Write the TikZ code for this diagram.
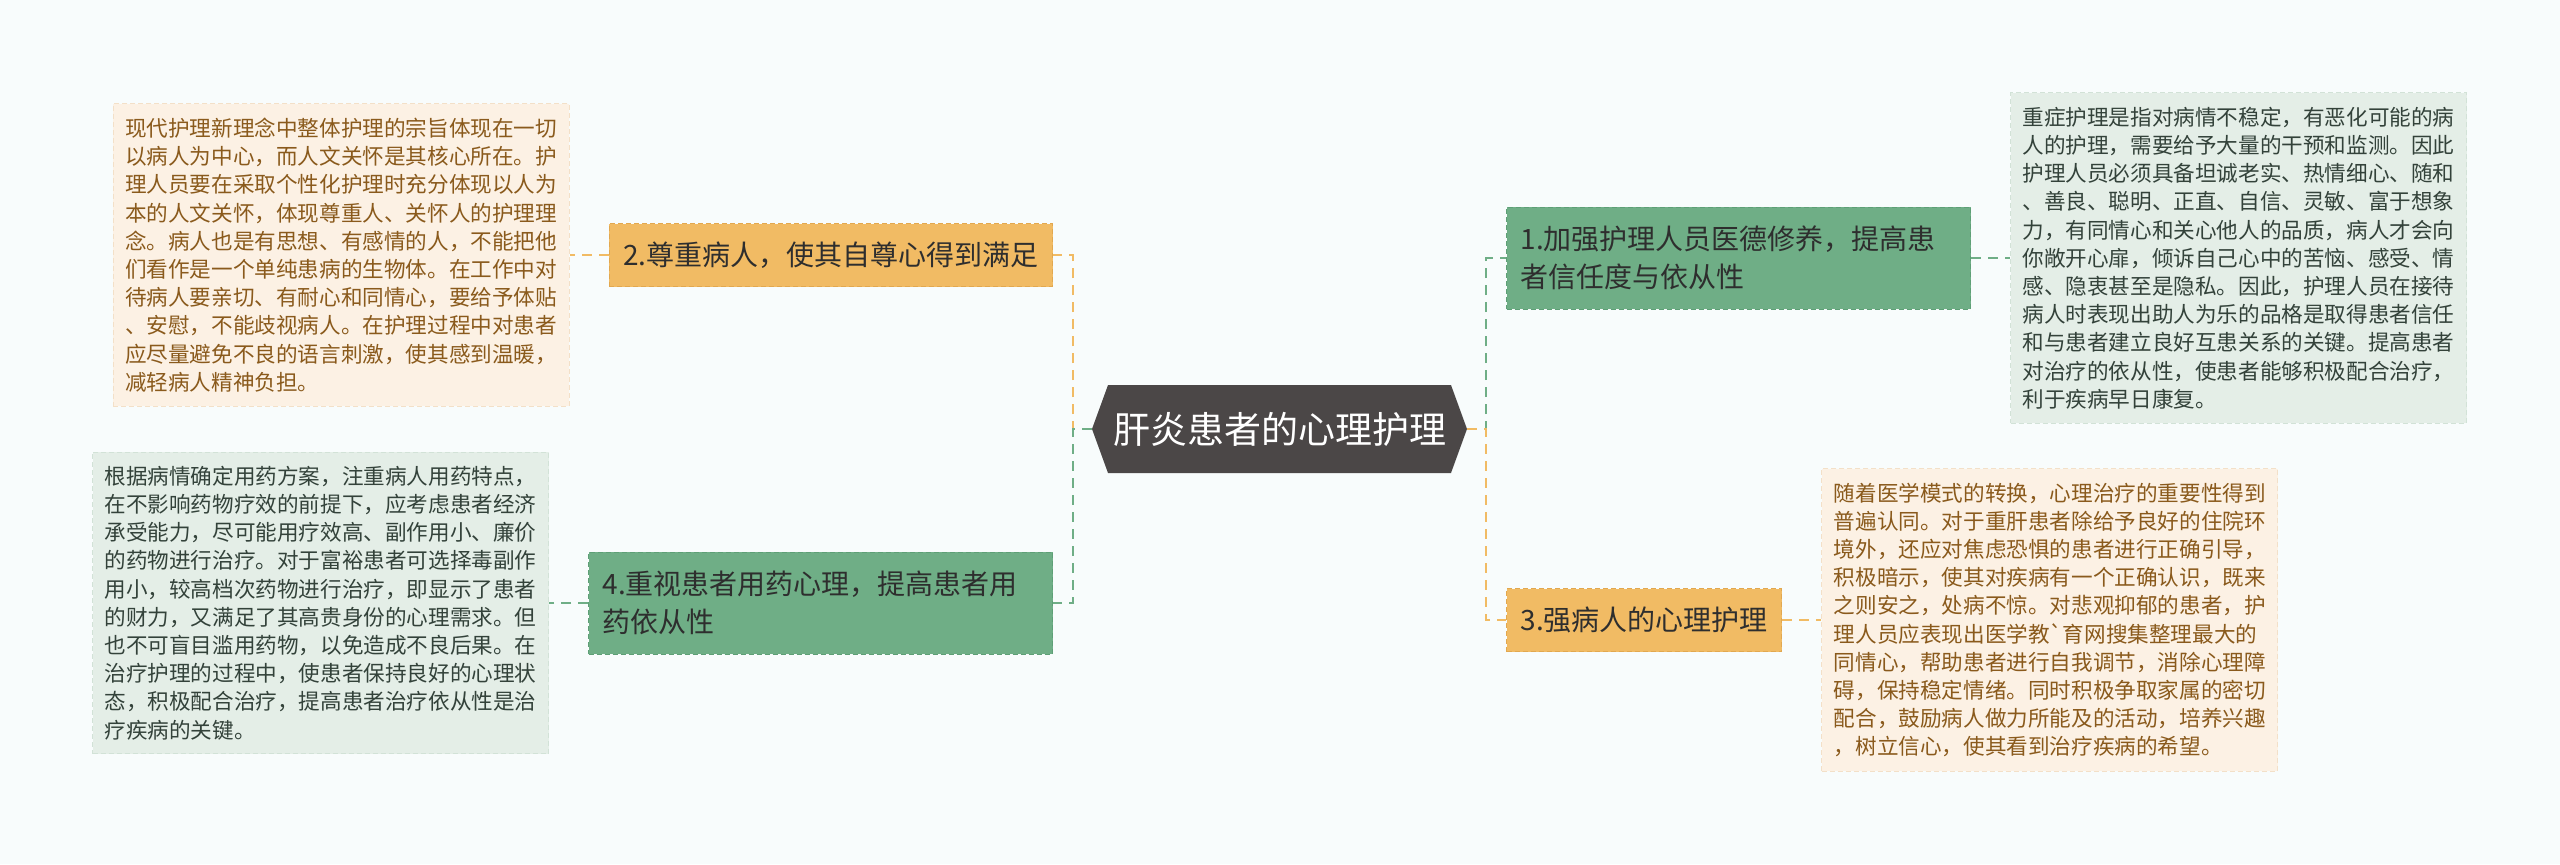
\documentclass[tikz,border=0pt]{standalone}
\usepackage{fontspec}
\newfontfamily\cjk{Noto Sans CJK SC}
\usetikzlibrary{positioning,shapes.symbols}

\definecolor{paper}{HTML}{F8FCFC}
\definecolor{coreFill}{HTML}{4B4747}
\definecolor{amber}{HTML}{F1BB64}
\definecolor{amberEdge}{HTML}{E2A84F}
\definecolor{sage}{HTML}{6FAE86}
\definecolor{sageEdge}{HTML}{5E9F76}
\definecolor{creamFill}{HTML}{FCF1E4}
\definecolor{creamEdge}{HTML}{F3E0C8}
\definecolor{creamText}{HTML}{8A5A1C}
\definecolor{mintFill}{HTML}{E4EEE7}
\definecolor{mintEdge}{HTML}{D2E2D7}
\definecolor{mintText}{HTML}{33423A}
\definecolor{inkDark}{HTML}{2E2E2E}

\begin{document}
\begin{tikzpicture}[
    x=0.5pt, y=-0.5pt,
    node distance=19.5pt,
    core/.style={signal, signal to=west and east, signal pointer angle=140, fill=coreFill, text=white,
        minimum width=187.5pt, minimum height=44pt, inner sep=0pt, font=\cjk\fontsize{18.5}{22}\selectfont},
    branch/.style={draw, dashed, dash pattern=on 2.5pt off 1.5pt, line width=0.5pt, align=left, text=inkDark,
        inner xsep=7pt, inner ysep=4pt, minimum height=31.5pt, font=\cjk\fontsize{14}{19}\selectfont},
    twoline/.style={text width=218pt, minimum height=51pt},
    amberbox/.style={branch, fill=amber, draw=amberEdge},
    sagebox/.style={branch, fill=sage, draw=sageEdge},
    note/.style={draw, dashed, dash pattern=on 2.5pt off 1.5pt, line width=0.5pt, align=left,
        inner xsep=6pt, inner ysep=7pt, font=\cjk\fontsize{10.8}{14.1}\selectfont},
    creamnote/.style={note, fill=creamFill, draw=creamEdge, text=creamText},
    mintnote/.style={note, fill=mintFill, draw=mintEdge, text=mintText},
    lnk/.style={line width=1pt, dash pattern=on 5pt off 3.5pt}
]
\fill[paper] (0,0) rectangle (2560,864);
\useasboundingbox (0,0) rectangle (2560,864);

\node[core] (core) at (1279.5,429) {肝炎患者的心理护理};

\node[sagebox, twoline, anchor=west] (b1) at (1506,258) {1.加强护理人员医德修养，提高患\\者信任度与依从性};
\node[amberbox, anchor=east] (b2) at (1053,255) {2.尊重病人，使其自尊心得到满足};
\node[amberbox, anchor=west] (b3) at (1506,620) {3.强病人的心理护理};
\node[sagebox, twoline, anchor=east] (b4) at (1053,603) {4.重视患者用药心理，提高患者用\\药依从性};

\node[mintnote, right=of b1] (n1) {重症护理是指对病情不稳定，有恶化可能的病\\
人的护理，需要给予大量的干预和监测。因此\\
护理人员必须具备坦诚老实、热情细心、随和\\
、善良、聪明、正直、自信、灵敏、富于想象\\
力，有同情心和关心他人的品质，病人才会向\\
你敞开心扉，倾诉自己心中的苦恼、感受、情\\
感、隐衷甚至是隐私。因此，护理人员在接待\\
病人时表现出助人为乐的品格是取得患者信任\\
和与患者建立良好互患关系的关键。提高患者\\
对治疗的依从性，使患者能够积极配合治疗，\\
利于疾病早日康复。};

\node[creamnote, left=of b2] (n2) {现代护理新理念中整体护理的宗旨体现在一切\\
以病人为中心，而人文关怀是其核心所在。护\\
理人员要在采取个性化护理时充分体现以人为\\
本的人文关怀，体现尊重人、关怀人的护理理\\
念。病人也是有思想、有感情的人，不能把他\\
们看作是一个单纯患病的生物体。在工作中对\\
待病人要亲切、有耐心和同情心，要给予体贴\\
、安慰，不能歧视病人。在护理过程中对患者\\
应尽量避免不良的语言刺激，使其感到温暖，\\
减轻病人精神负担。};

\node[creamnote, right=of b3] (n3) {随着医学模式的转换，心理治疗的重要性得到\\
普遍认同。对于重肝患者除给予良好的住院环\\
境外，还应对焦虑恐惧的患者进行正确引导，\\
积极暗示，使其对疾病有一个正确认识，既来\\
之则安之，处病不惊。对悲观抑郁的患者，护\\
理人员应表现出医学教`育网搜集整理最大的\\
同情心，帮助患者进行自我调节，消除心理障\\
碍，保持稳定情绪。同时积极争取家属的密切\\
配合，鼓励病人做力所能及的活动，培养兴趣\\
，树立信心，使其看到治疗疾病的希望。};

\node[mintnote, left=of b4] (n4) {根据病情确定用药方案，注重病人用药特点，\\
在不影响药物疗效的前提下，应考虑患者经济\\
承受能力，尽可能用疗效高、副作用小、廉价\\
的药物进行治疗。对于富裕患者可选择毒副作\\
用小，较高档次药物进行治疗，即显示了患者\\
的财力，又满足了其高贵身份的心理需求。但\\
也不可盲目滥用药物，以免造成不良后果。在\\
治疗护理的过程中，使患者保持良好的心理状\\
态，积极配合治疗，提高患者治疗依从性是治\\
疗疾病的关键。};

% core to branches
\draw[lnk, amber] (core.west) -- ++(-19,0) |- (b2.east);
\draw[lnk, sage] (core.west) -- ++(-19,0) |- (b4.east);
\draw[lnk, sage] (core.east) -- ++(19,0) |- (b1.west);
\draw[lnk, amber] (core.east) -- ++(19,0) |- (b3.west);

% branches to notes
\draw[lnk, sage] (b1) -- (n1);
\draw[lnk, amber] (b2) -- (n2);
\draw[lnk, amber] (b3) -- (n3);
\draw[lnk, sage] (b4) -- (n4);
\end{tikzpicture}
\end{document}
